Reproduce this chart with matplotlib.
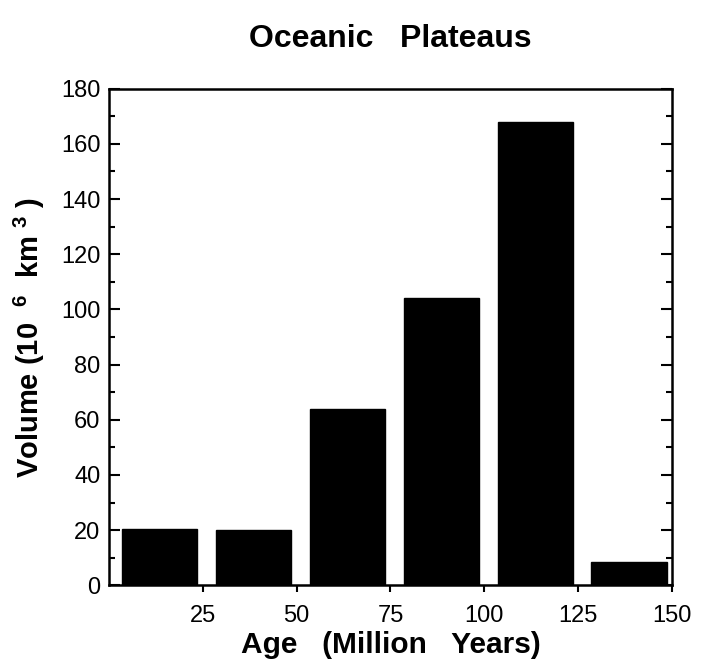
import matplotlib.pyplot as plt
from matplotlib.ticker import MultipleLocator

plt.rcParams['font.family'] = ['Liberation Sans', 'DejaVu Sans']
plt.rcParams['mathtext.default'] = 'regular'

# age bins (Ma) and plateau volumes (10^6 km^3)
bin_left = [0, 25, 50, 75, 100, 125]
volume = [20.5, 20, 64, 104, 168, 8.5]
xticks = [25, 50, 75, 100, 125, 150]

fig = plt.figure(figsize=(7.01, 6.72), dpi=100)
ax = fig.add_axes([0.155, 0.129, 0.804, 0.739])

# bars sit inside each 25 Myr bin, leaving a gap on the left
ax.bar([b + 3.5 for b in bin_left], volume, width=20, align='edge',
       color='black', edgecolor='black')

ax.set_xlim(0, 150)
ax.set_ylim(0, 180)
ax.set_xticks(xticks)
ax.yaxis.set_major_locator(MultipleLocator(20))
ax.yaxis.set_minor_locator(MultipleLocator(10))
ax.tick_params(axis='y', which='both', direction='in', right=True,
               labelsize=17, width=1.5, pad=6)
ax.tick_params(axis='y', which='major', length=8)
ax.tick_params(axis='y', which='minor', length=4)
ax.tick_params(axis='x', direction='out', length=5, width=1.5,
               labelsize=17, pad=9)
for s in ax.spines.values():
    s.set_linewidth(1.8)

ax.set_title('Oceanic   Plateaus', fontsize=23, fontweight='bold', pad=30)
ax.set_xlabel('Age   (Million   Years)', fontsize=21.5, fontweight='bold',
              labelpad=3)
ax.set_ylabel('Volume (10  $^{6}$  km $^{3}$ )', fontsize=21,
              fontweight='bold', labelpad=10)

fig.savefig('out.png', dpi=100)
